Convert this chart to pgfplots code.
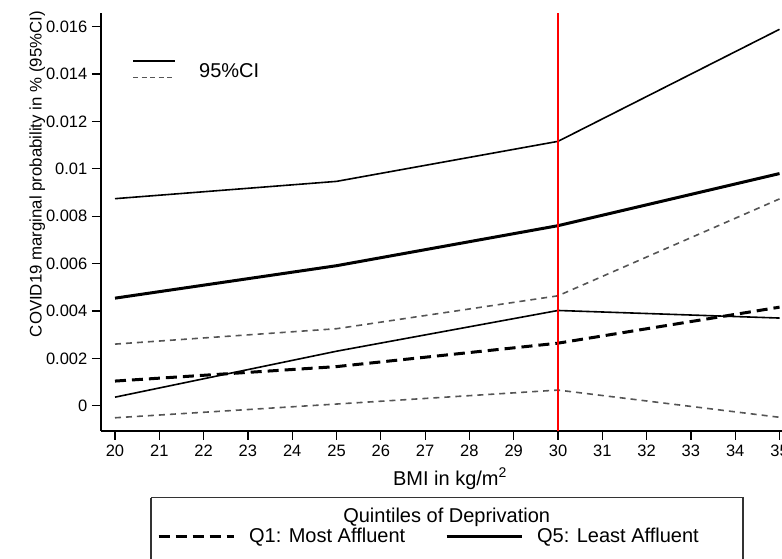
\documentclass[border=0pt]{standalone}
\usepackage{fontspec}
\setmainfont{Liberation Sans}
\usepackage{pgfplots}
\usepackage{pgfplotstable}
\pgfplotsset{compat=1.18}
\definecolor{cigray}{HTML}{555555}
\definecolor{boxgray}{HTML}{333333}
\pgfplotstableread{
x    q5u      q5e      q5l      q1u      q1e      q1l
20   0.00874  0.00454  0.00036  0.00260  0.00104  -0.00051
25   0.00947  0.00591  0.00230  0.00325  0.00165  0.00007
30   0.01116  0.00760  0.00402  0.00464  0.00264  0.00066
35   0.01589  0.00980  0.00370  0.00873  0.00416  -0.00049
}\datatable
\begin{document}
\fontsize{16}{19}\selectfont
\begin{tikzpicture}
\begin{axis}[
  at={(101pt,128pt)}, anchor=south west,
  scale only axis, width=681pt, height=417.7pt,
  xmin=19.684, xmax=35.056,
  ymin=-0.001068, ymax=0.016566,
  axis x line*=bottom, axis y line*=left,
  axis line style={line width=1.2pt, black},
  xtick={20,21,...,35},
  ytick={0,0.002,...,0.0161},
  scaled y ticks=false,
  tick align=outside, major tick length=9pt,
  tick style={line width=1.2pt, black},
  /pgf/number format/assume math mode=true,
  every tick label/.style={font=\fontsize{16.5}{19}\selectfont, inner sep=4.5pt},
  xticklabel={\pgfmathprintnumber{\tick}},
  yticklabel={\pgfmathprintnumber[fixed,precision=3]{\tick}},
  xlabel={BMI in kg/m\textsuperscript{2}},
  xlabel style={font=\fontsize{20}{24}\selectfont, at={(axis description cs:0.5125,-0.1293)}, anchor=base, inner sep=0pt},
  ylabel={COVID19 marginal probability in \% (95\%CI)},
  ylabel style={font=\fontsize{16.8}{20}\selectfont, at={(axis description cs:-0.0871,0.6148)}, anchor=base, inner sep=0pt},
  legend style={at={(rel axis cs:0.0822,-0.2514)}, anchor=west, draw=none, fill=none,
    inner sep=0pt, font=\fontsize{20}{24}\selectfont, legend columns=2,
    nodes={inner sep=0pt},
    /tikz/every odd column/.append style={column sep=14pt},
    /tikz/every even column/.append style={column sep=40pt}},
  legend image code/.code={\draw[#1] (0pt,0pt) -- (75pt,0pt);},
  clip=false,
]
\addplot[forget plot, cigray, line width=1.6pt, dash pattern=on 6pt off 5pt] table[x=x,y=q1u]{\datatable};
\addplot[forget plot, cigray, line width=1.6pt, dash pattern=on 6pt off 5pt] table[x=x,y=q1l]{\datatable};
\addplot[forget plot, black, line width=1.6pt] table[x=x,y=q5u]{\datatable};
\addplot[forget plot, black, line width=1.6pt] table[x=x,y=q5l]{\datatable};
\addplot[black, line width=3pt, dash pattern=on 11pt off 6pt] table[x=x,y=q1e]{\datatable};
\addlegendentry{Q1: Most Affluent}
\addplot[black, line width=3pt] table[x=x,y=q5e]{\datatable};
\addlegendentry{Q5: Least Affluent}
\addplot[forget plot, red, line width=1.8pt] coordinates {(30,-0.001068) (30,0.016566)};
\end{axis}
% inner CI legend
\draw[black, line width=1.5pt] (133pt,498pt) -- (175pt,498pt);
\draw[cigray, line width=1.5pt, dash pattern=on 5pt off 3.5pt] (133pt,481.7pt) -- (175pt,481.7pt);
\node[anchor=base west, inner sep=0pt, font=\fontsize{20}{24}\selectfont] at (199pt,481.7pt) {95\%CI};
% bottom legend frame and title
\draw[boxgray, line width=1.3pt] (151pt,61.3pt) -- (743pt,61.3pt) -- (743pt,-10pt);
\draw[boxgray, line width=1.3pt] (151pt,61.3pt) -- (151pt,-10pt);
\node[anchor=base, inner sep=0pt, font=\fontsize{20}{24}\selectfont] at (446.7pt,36pt) {Quintiles of Deprivation};
\pgfresetboundingbox
\useasboundingbox (0pt,0pt) rectangle (782pt,559pt);
\end{tikzpicture}
\end{document}
